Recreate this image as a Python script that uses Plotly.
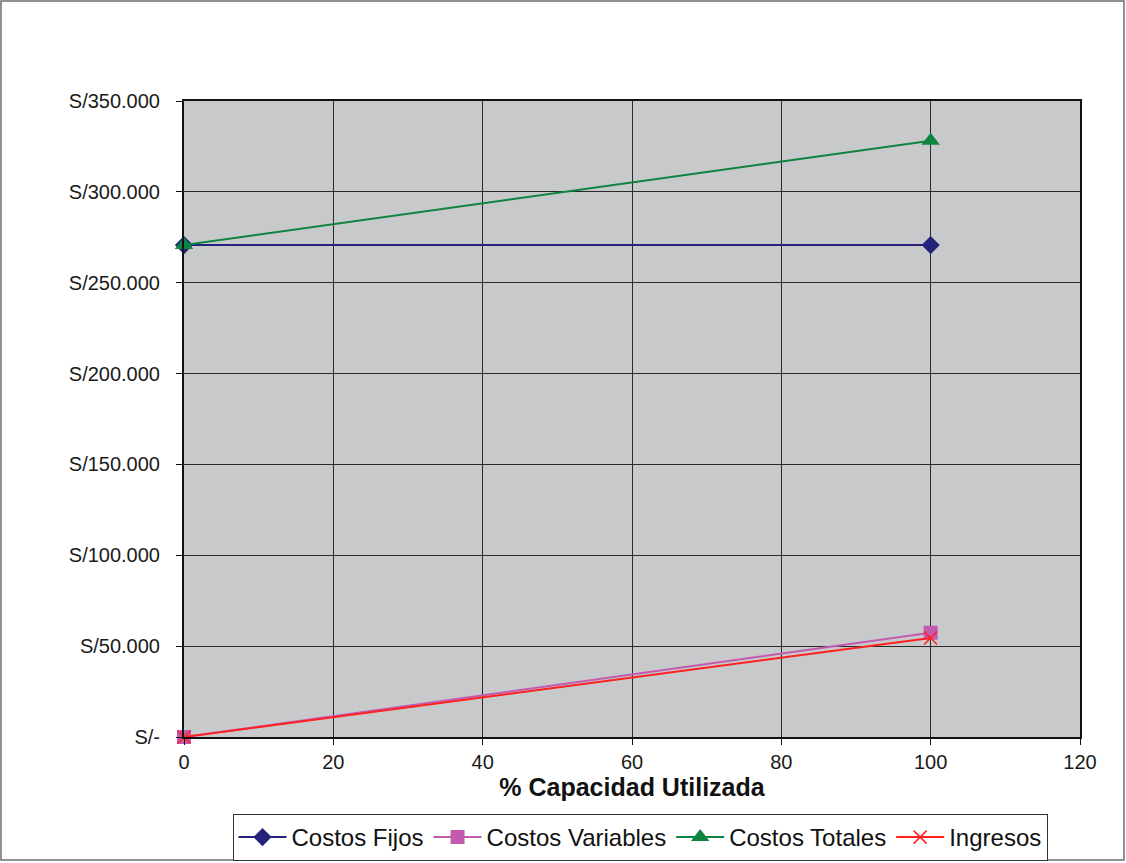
import plotly.graph_objects as go

# % capacity used
capacidad = [0, 100]

# Cost / revenue values (S/)
costos_fijos = [270700, 270700]
costos_variables = [0, 57400]
costos_totales = [270700, 328100]
ingresos = [0, 54500]

y_tick_vals = [0, 50000, 100000, 150000, 200000, 250000, 300000, 350000]
y_tick_text = ["S/-", "S/50.000", "S/100.000", "S/150.000", "S/200.000",
               "S/250.000", "S/300.000", "S/350.000"]

FONT = "Liberation Sans, Arial, sans-serif"

fig = go.Figure()

fig.add_trace(go.Scatter(
    x=capacidad, y=costos_fijos, name="Costos Fijos", mode="lines+markers",
    line=dict(color="#23237A", width=2), cliponaxis=False,
    marker=dict(symbol="diamond", size=14, color="#23237A"),
))
fig.add_trace(go.Scatter(
    x=capacidad, y=costos_variables, name="Costos Variables", mode="lines+markers",
    line=dict(color="#C45AAE", width=2), cliponaxis=False,
    marker=dict(symbol="square", size=14, color="#C45AAE"),
))
fig.add_trace(go.Scatter(
    x=capacidad, y=costos_totales, name="Costos Totales", mode="lines+markers",
    line=dict(color="#0E8440", width=2), cliponaxis=False,
    marker=dict(symbol="triangle-up", size=16, color="#0E8440"),
))
fig.add_trace(go.Scatter(
    x=capacidad, y=ingresos, name="Ingresos", mode="lines+markers",
    line=dict(color="#FF2020", width=2), cliponaxis=False,
    marker=dict(symbol="x-thin", size=13, color="#FF2020",
                line=dict(color="#FF2020", width=1.5)),
))

# Outer frame around the whole chart (paper coords derived from plot domain)
L, R, T, B = 184, 46, 101, 126
pw, ph = 1126 - L - R, 863 - T - B
def px_x(p):
    return (p - L) / pw
def px_y(p):
    return (863 - B - p) / ph

fig.add_shape(type="rect", xref="paper", yref="paper",
              x0=px_x(1), x1=px_x(1124), y0=px_y(860), y1=px_y(1),
              line=dict(color="#6E6E6E", width=1.5), fillcolor="rgba(0,0,0,0)",
              layer="below")

fig.update_layout(
    width=1126, height=863,
    margin=dict(l=L, r=R, t=T, b=B, autoexpand=False),
    paper_bgcolor="white",
    plot_bgcolor="#C8C9CB",
    font=dict(family=FONT, color="#1A1A1A"),
    showlegend=True,
    legend=dict(
        orientation="h", x=px_x(640), xanchor="center",
        y=px_y(814), yanchor="top",
        font=dict(size=24, family=FONT, color="#111"),
        bordercolor="#333", borderwidth=1, bgcolor="white",
        itemwidth=48, tracegroupgap=0, traceorder="normal",
    ),
    xaxis=dict(
        range=[0, 120], tickvals=[0, 20, 40, 60, 80, 100, 120],
        showgrid=True, gridcolor="#2A2A2A", gridwidth=1,
        showline=True, linecolor="#111", linewidth=2, mirror=True,
        ticks="outside", ticklen=6, tickcolor="#111",
        tickfont=dict(size=20, family=FONT, color="#1A1A1A"),
        zeroline=False,
        title=dict(text="<b>% Capacidad Utilizada</b>",
                   font=dict(size=25, family=FONT, color="#111"), standoff=6),
    ),
    yaxis=dict(
        range=[0, 350000], tickvals=y_tick_vals, ticktext=y_tick_text,
        showgrid=True, gridcolor="#2A2A2A", gridwidth=1,
        showline=True, linecolor="#111", linewidth=2, mirror=True,
        ticks="outside", ticklen=6, tickcolor="#111", ticklabelstandoff=12,
        tickfont=dict(size=20, family=FONT, color="#1A1A1A"),
        zeroline=False,
    ),
)

fig.write_html("out.html")
